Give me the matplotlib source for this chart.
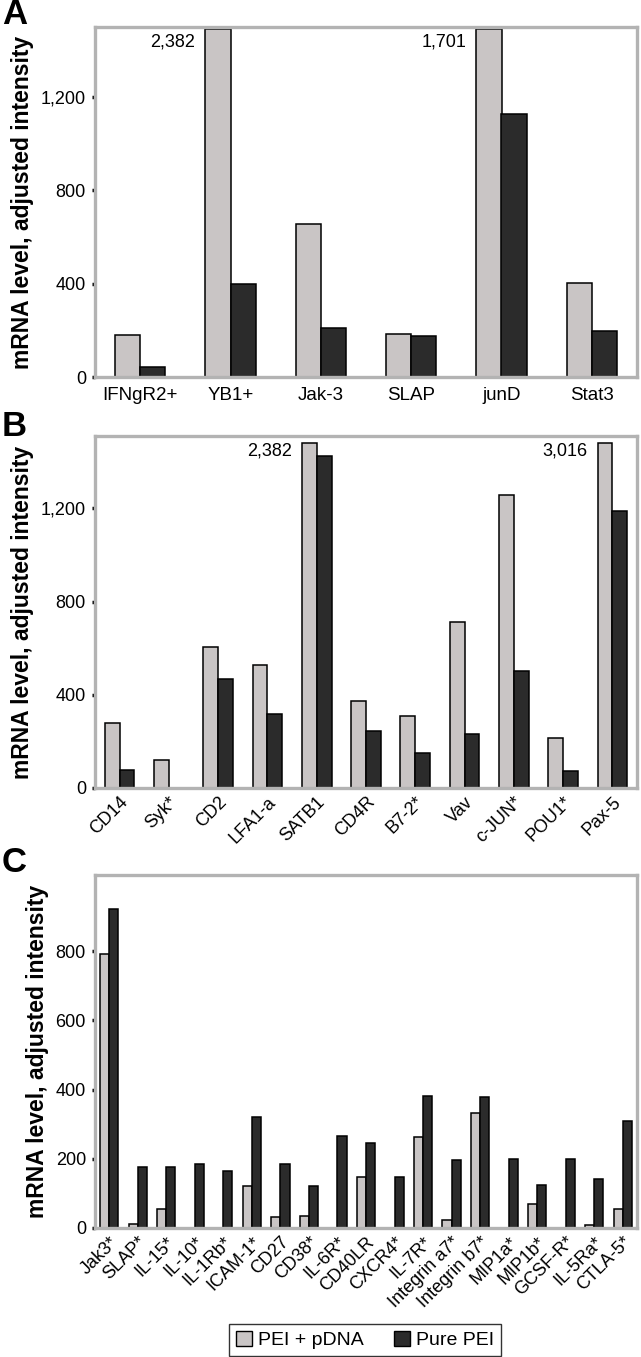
import numpy as np
import matplotlib
matplotlib.use("Agg")
import matplotlib.pyplot as plt
from matplotlib.patches import Patch
from matplotlib.ticker import FuncFormatter

plt.rcParams['font.family'] = ['Liberation Sans Narrow', 'Liberation Sans', 'DejaVu Sans']

# ---------------- data ----------------
a_genes = ["IFNgR2+", "YB1+", "Jak-3", "SLAP", "junD", "Stat3"]
a_pei_pdna = [178, 2382, 654, 186, 1701, 401]
a_pure_pei = [43, 398, 209, 176, 1126, 198]

b_genes = ["CD14", "Syk*", "CD2", "LFA1-a", "SATB1", "CD4R", "B7-2*", "Vav",
           "c-JUN*", "POU1*", "Pax-5"]
b_pei_pdna = [280, 120, 607, 529, 2382, 372, 311, 713, 1257, 216, 3016]
b_pure_pei = [78, 0, 468, 316, 1425, 243, 151, 232, 504, 74, 1187]

c_genes = ["Jak3*", "SLAP*", "IL-15*", "IL-10*", "IL-1Rb*", "ICAM-1*", "CD27",
           "CD38*", "IL-6R*", "CD40LR", "CXCR4*", "IL-7R*", "Integrin a7*",
           "Integrin b7*", "MIP1a*", "MIP1b*", "GCSF-R*", "IL-5Ra*", "CTLA-5*"]
c_pei_pdna = [791, 11, 54, 0, 0, 122, 32, 35, 0, 147, 0, 264, 23, 331, 0, 68, 0, 9, 54]
c_pure_pei = [923, 176, 176, 186, 164, 321, 185, 122, 266, 245, 146, 380, 197, 378,
              200, 125, 200, 142, 308]

a_yticks = [0, 400, 800, 1200]
b_yticks = [0, 400, 800, 1200]
c_yticks = [0, 200, 400, 600, 800]

series_names = ["PEI + pDNA", "Pure PEI"]

# ---------------- style ----------------
LIGHT = "#c9c5c5"
DARK = "#2b2b2b"
FRAME = "#b3b3b3"

fig = plt.figure(figsize=(6.41, 13.57), dpi=100)

W = 641.0
H = 1357.0


def make_ax(top, bottom, left=95, right=637):
    return fig.add_axes([left / W, 1 - bottom / H, (right - left) / W, (bottom - top) / H])


def fmt(v, pos):
    return f"{int(v):,}"


def draw(ax, genes, light, dark, ymax, cap, yticks, width, rot):
    x = np.arange(len(genes))
    light = np.asarray(light, float)
    dark = np.asarray(dark, float)
    lshow = np.where(light > 0, np.minimum(light, cap), np.nan)
    dshow = np.where(dark > 0, np.minimum(dark, cap), np.nan)
    ax.bar(x - width / 2, lshow, width, color=LIGHT, edgecolor="black", linewidth=1.1, zorder=3)
    ax.bar(x + width / 2, dshow, width, color=DARK, edgecolor="black", linewidth=1.1, zorder=3)
    ax.set_xlim(-0.5, len(genes) - 0.5)
    ax.set_ylim(0, ymax)
    for s in ax.spines.values():
        s.set_color(FRAME)
        s.set_linewidth(2.4)
        s.set_zorder(4)
    ax.set_yticks(yticks)
    ax.yaxis.set_major_formatter(FuncFormatter(fmt))
    ax.tick_params(axis='y', direction='out', length=2.5, width=2.5, color='black',
                   labelsize=13, pad=4)
    ax.set_xticks(x)
    if rot:
        ax.set_xticklabels(genes, rotation=45, ha='right', rotation_mode='anchor')
        ax.tick_params(axis='x', length=0, labelsize=13, pad=4)
    else:
        ax.set_xticklabels(genes)
        ax.tick_params(axis='x', length=0, labelsize=13.5, pad=7)
    ax.set_ylabel("mRNA level, adjusted intensity", fontsize=16.5, fontweight='bold',
                  family=['Liberation Sans', 'DejaVu Sans'], labelpad=5)
    # annotate clipped bars
    for i, v in enumerate(light):
        if v > cap:
            ax.annotate(f"{int(v):,}", xy=(i - width, ymax * 0.958), xytext=(-7, 0),
                        textcoords='offset points', ha='right', va='center', fontsize=13)
    return ax


axA = make_ax(27, 377)
draw(axA, a_genes, a_pei_pdna, a_pure_pei, 1500, 1490, a_yticks, 0.28, False)
axB = make_ax(436, 788)
draw(axB, b_genes, b_pei_pdna, b_pure_pei, 1510, 1480, b_yticks, 0.30, True)
axC = make_ax(875, 1228)
draw(axC, c_genes, c_pei_pdna, c_pure_pei, 1020, 1020, c_yticks, 0.32, True)

for lab, ypx in (("A", 14), ("B", 427), ("C", 862)):
    fig.text(2 / W, 1 - ypx / H, lab, fontsize=25, fontweight='bold',
             family=['Liberation Sans', 'DejaVu Sans'], va='center', ha='left')

handles = [Patch(facecolor=LIGHT, edgecolor='black', linewidth=1.0),
           Patch(facecolor=DARK, edgecolor='black', linewidth=1.0)]
leg = fig.legend(handles, series_names, loc='center', bbox_to_anchor=(365 / W, 1 - 1340 / H),
                 ncol=2, fontsize=14, frameon=True, fancybox=False, edgecolor='black',
                 handlelength=0.8, handleheight=0.8, handletextpad=0.3, columnspacing=1.6,
                 borderpad=0.35)
leg.get_frame().set_linewidth(1.0)

fig.savefig("out.png", dpi=100)
